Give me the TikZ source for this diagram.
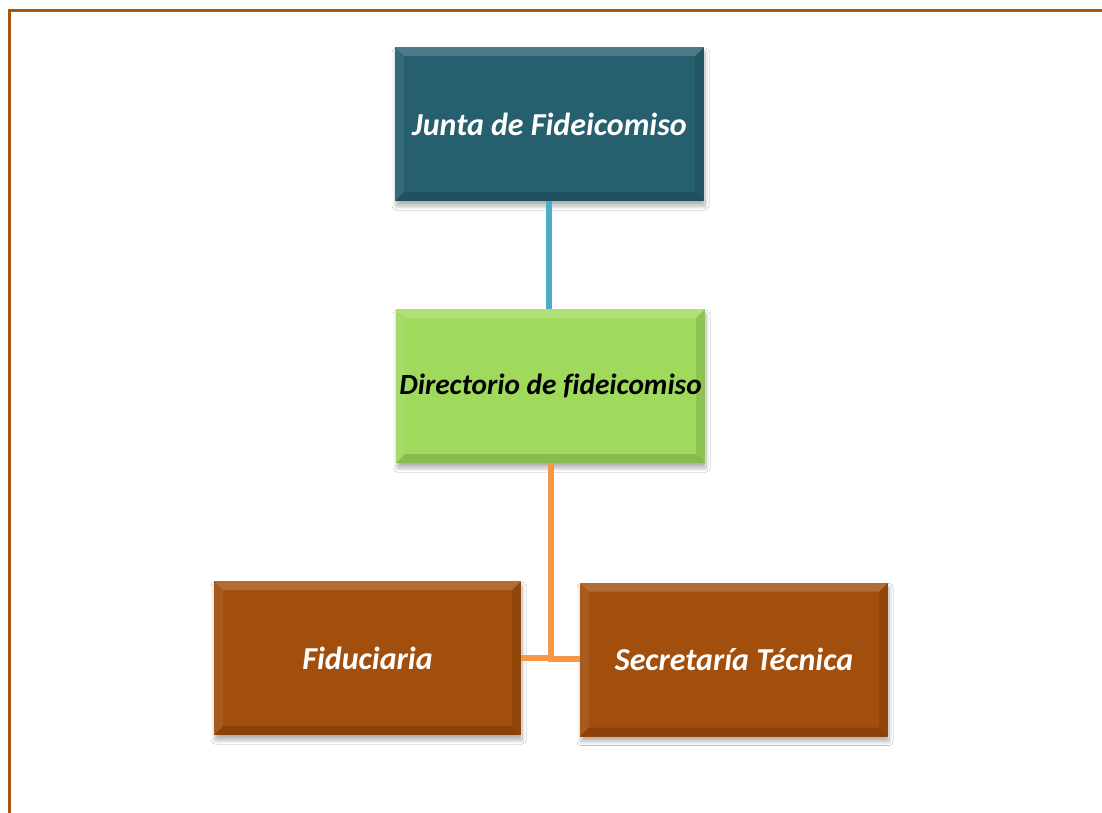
\documentclass[tikz,border=0pt]{standalone}
\usepackage{fontspec}
\setmainfont{Carlito}[Ligatures=NoCommon]
\usetikzlibrary{shadows.blur}
\definecolor{junta}{HTML}{265F6E}
\definecolor{dir}{HTML}{9FDA5C}
\definecolor{fid}{HTML}{A24E0C}
\definecolor{bluel}{HTML}{4BACC6}
\definecolor{orangel}{HTML}{F79646}
\definecolor{frame}{HTML}{A8560F}
\tikzset{
  orgbox/.style={rectangle, minimum width=309pt, minimum height=154pt, inner sep=0pt,
    font=\fontsize{32}{38}\selectfont\bfseries\itshape,
    blur shadow={shadow xshift=1pt, shadow yshift=-5pt, shadow blur steps=8, shadow blur radius=4pt, shadow opacity=30},
    path picture={
      \def\b{9pt}
      \fill[white,opacity=.18] (path picture bounding box.north west) -- (path picture bounding box.north east)
        -- ([xshift=-\b,yshift=-\b]path picture bounding box.north east) -- ([xshift=\b,yshift=-\b]path picture bounding box.north west) -- cycle;
      \fill[white,opacity=.07] (path picture bounding box.north west) -- ([xshift=\b,yshift=-\b]path picture bounding box.north west)
        -- ([xshift=\b,yshift=\b]path picture bounding box.south west) -- (path picture bounding box.south west) -- cycle;
      \fill[black,opacity=.14] (path picture bounding box.south west) -- (path picture bounding box.south east)
        -- ([xshift=-\b,yshift=\b]path picture bounding box.south east) -- ([xshift=\b,yshift=\b]path picture bounding box.south west) -- cycle;
      \fill[black,opacity=.10] (path picture bounding box.north east) -- ([xshift=-\b,yshift=-\b]path picture bounding box.north east)
        -- ([xshift=-\b,yshift=\b]path picture bounding box.south east) -- (path picture bounding box.south east) -- cycle;
    }},
  bluecon/.style={draw=bluel, line width=5.5pt},
  orangecon/.style={draw=orangel, line width=5.5pt},
}
\begin{document}
\begin{tikzpicture}[x=1pt,y=-1pt]
\useasboundingbox (0,0) rectangle (1102,813);
\fill[white] (0,0) rectangle (1102,813);
\draw[frame, line width=3pt] (9,813) -- (9,11) -- (1102,11);
\node[orgbox, fill=junta, text=white] (junta) at (549.5,124) {Junta de Fideicomiso};
\node[orgbox, fill=dir, text=black, font=\fontsize{29.3}{35}\selectfont\bfseries\itshape] (dir) at (550.5,386) {Directorio de fideicomiso};
\node[orgbox, fill=fid, text=white, minimum width=307pt] (fidu) at (367.5,658) {Fiduciaria};
\node[orgbox, fill=fid, text=white, minimum width=308pt] (sec) at (734,659.5) {Secretaría Técnica};
\coordinate (j) at (551,659);
\draw[bluecon] (junta.south -| 549,0) -- (dir.north -| 549,0);
\draw[orangecon] (dir.south -| j) -- (j);
\draw[orangecon] (fidu.east) -- (fidu.east -| j) -- (j) -- (sec.west |- j);
\end{tikzpicture}
\end{document}
